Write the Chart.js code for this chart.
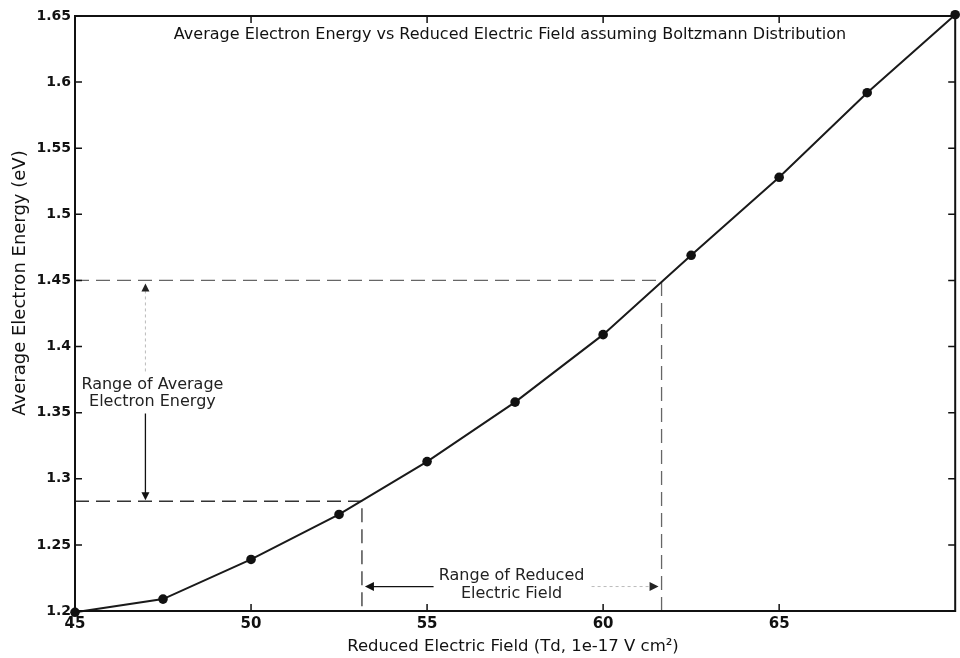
<!DOCTYPE html>
<html>
<head>
<meta charset="utf-8">
<script src="https://cdn.jsdelivr.net/npm/chart.js@4/dist/chart.umd.min.js"></script>
<style>
html,body{margin:0;padding:0;background:#fff;}
#wrap{width:960px;height:658px;}
</style>
</head>
<body>
<div id="wrap"><canvas id="c" width="960" height="658"></canvas></div>
<script>
// ---- data ----
const fieldValues = [45, 47.5, 50, 52.5, 55, 57.5, 60, 62.5, 65, 67.5, 70];
const energyValues = [1.199, 1.209, 1.239, 1.273, 1.313, 1.358, 1.409, 1.469, 1.528, 1.592, 1.651];
const xTicks = [45, 50, 55, 60, 65];
const yTicks = [1.2, 1.25, 1.3, 1.35, 1.4, 1.45, 1.5, 1.55, 1.6, 1.65];
const energyRange = [1.283, 1.45];      // dashed horizontal guides
const fieldRange = [53.15, 61.66];      // dashed vertical guides
const energyArrowX = 47.0;              // x position of vertical arrow
const fieldArrowY = 1.2185;             // y position of horizontal arrow
const titleText = 'Average Electron Energy vs Reduced Electric Field assuming Boltzmann Distribution';
const xTitle = 'Reduced Electric Field (Td, 1e-17 V cm\u00B2)';
const yTitle = 'Average Electron Energy (eV)';
const energyLabel = ['Range of Average', 'Electron Energy'];
const fieldLabel = ['Range of Reduced', 'Electric Field'];

const FONT = '"DejaVu Sans", Verdana, sans-serif';

function arrowHead(ctx, x, y, dir, size, color) {
  ctx.save();
  ctx.fillStyle = color;
  ctx.beginPath();
  const s = size, w = size * 0.5;
  if (dir === 'up') { ctx.moveTo(x, y); ctx.lineTo(x - w, y + s); ctx.lineTo(x + w, y + s); }
  if (dir === 'down') { ctx.moveTo(x, y); ctx.lineTo(x - w, y - s); ctx.lineTo(x + w, y - s); }
  if (dir === 'left') { ctx.moveTo(x, y); ctx.lineTo(x + s, y - w); ctx.lineTo(x + s, y + w); }
  if (dir === 'right') { ctx.moveTo(x, y); ctx.lineTo(x - s, y - w); ctx.lineTo(x - s, y + w); }
  ctx.closePath();
  ctx.fill();
  ctx.restore();
}

const guidesPlugin = {
  id: 'guides',
  beforeDatasetsDraw(chart) {
    const {ctx, scales: {x, y}} = chart;
    ctx.save();
    ctx.lineWidth = 1.3;
    ctx.setLineDash([14, 7]);
    // upper guide (1.45)
    ctx.strokeStyle = '#666';
    ctx.beginPath();
    ctx.moveTo(x.getPixelForValue(45), y.getPixelForValue(energyRange[1]));
    ctx.lineTo(x.getPixelForValue(fieldRange[1]), y.getPixelForValue(energyRange[1]));
    ctx.lineTo(x.getPixelForValue(fieldRange[1]), y.getPixelForValue(1.2));
    ctx.stroke();
    // lower guide
    ctx.strokeStyle = '#333';
    ctx.beginPath();
    ctx.moveTo(x.getPixelForValue(45), y.getPixelForValue(energyRange[0]));
    ctx.lineTo(x.getPixelForValue(fieldRange[0]), y.getPixelForValue(energyRange[0]));
    ctx.lineTo(x.getPixelForValue(fieldRange[0]), y.getPixelForValue(1.2));
    ctx.stroke();
    ctx.setLineDash([]);

    // vertical arrow (energy range)
    const ax = x.getPixelForValue(energyArrowX);
    const yTop = y.getPixelForValue(energyRange[1]);
    const yBot = y.getPixelForValue(energyRange[0]);
    const yLab = y.getPixelForValue(1.3645);
    ctx.strokeStyle = '#bbb';
    ctx.lineWidth = 1;
    ctx.setLineDash([3, 3]);
    ctx.beginPath(); ctx.moveTo(ax, yTop + 10); ctx.lineTo(ax, yLab - 21); ctx.stroke();
    ctx.setLineDash([]);
    ctx.strokeStyle = '#111';
    ctx.lineWidth = 1.3;
    ctx.beginPath(); ctx.moveTo(ax, yLab + 20); ctx.lineTo(ax, yBot - 6); ctx.stroke();
    arrowHead(ctx, ax, yTop + 3, 'up', 8, '#222');
    arrowHead(ctx, ax, yBot - 1, 'down', 8, '#111');
    ctx.fillStyle = '#222';
    ctx.font = '16px ' + FONT;
    ctx.textAlign = 'center';
    ctx.textBaseline = 'middle';
    ctx.fillText(energyLabel[0], ax + 7, yLab - 9);
    ctx.fillText(energyLabel[1], ax + 7, yLab + 8);

    // horizontal arrow (field range)
    const hy = y.getPixelForValue(fieldArrowY);
    const xL = x.getPixelForValue(fieldRange[0]);
    const xR = x.getPixelForValue(fieldRange[1]);
    const cx = x.getPixelForValue(57.4);
    ctx.strokeStyle = '#111';
    ctx.lineWidth = 1.3;
    ctx.beginPath(); ctx.moveTo(xL + 8, hy); ctx.lineTo(cx - 78, hy); ctx.stroke();
    arrowHead(ctx, xL + 3, hy, 'left', 9, '#111');
    ctx.strokeStyle = '#bbb';
    ctx.lineWidth = 1;
    ctx.setLineDash([3, 3]);
    ctx.beginPath(); ctx.moveTo(cx + 80, hy); ctx.lineTo(xR - 9, hy); ctx.stroke();
    ctx.setLineDash([]);
    arrowHead(ctx, xR - 3, hy, 'right', 9, '#222');
    ctx.fillStyle = '#222';
    ctx.fillText(fieldLabel[0], cx, hy - 11);
    ctx.fillText(fieldLabel[1], cx, hy + 7);
    ctx.restore();
  },
  afterDraw(chart) {
    const {ctx, chartArea: a, scales: {x, y}} = chart;
    ctx.save();
    // box
    ctx.strokeStyle = '#111';
    ctx.lineWidth = 2;
    ctx.strokeRect(a.left, a.top, a.right - a.left, a.bottom - a.top);
    // inward ticks
    ctx.lineWidth = 1.5;
    const tl = 7;
    xTicks.forEach(v => {
      const px = x.getPixelForValue(v);
      ctx.beginPath();
      ctx.moveTo(px, a.bottom); ctx.lineTo(px, a.bottom - tl);
      ctx.moveTo(px, a.top); ctx.lineTo(px, a.top + tl);
      ctx.stroke();
    });
    yTicks.forEach(v => {
      const py = y.getPixelForValue(v);
      ctx.beginPath();
      ctx.moveTo(a.left, py); ctx.lineTo(a.left + tl, py);
      ctx.moveTo(a.right, py); ctx.lineTo(a.right - tl, py);
      ctx.stroke();
    });
    // title inside the plot
    ctx.fillStyle = '#111';
    ctx.font = '16px ' + FONT;
    ctx.textAlign = 'center';
    ctx.textBaseline = 'middle';
    ctx.fillText(titleText, 510, 35);
    // axis titles
    ctx.font = '16.5px ' + FONT;
    ctx.fillText(xTitle, 513, 647);
    ctx.save();
    ctx.font = '18px ' + FONT;
    ctx.translate(20, 283);
    ctx.rotate(-Math.PI / 2);
    ctx.fillText(yTitle, 0, 0);
    ctx.restore();
    ctx.restore();
  }
};

new Chart(document.getElementById('c'), {
  type: 'line',
  data: {
    datasets: [{
      data: fieldValues.map((v, i) => ({x: v, y: energyValues[i]})),
      borderColor: '#1a1a1a',
      backgroundColor: '#111',
      borderWidth: 2,
      pointRadius: 4.8,
      pointBackgroundColor: '#111',
      pointBorderColor: '#111',
      pointBorderWidth: 0,
      tension: 0,
      clip: false
    }]
  },
  options: {
    responsive: false,
    animation: false,
    devicePixelRatio: 1,
    layout: {padding: {left: 0, top: 16, right: 3, bottom: 0}},
    plugins: {legend: {display: false}, tooltip: {enabled: false}, title: {display: false}},
    scales: {
      x: {
        type: 'linear', min: 45, max: 70,
        grid: {display: false, drawTicks: false},
        border: {display: false},
        afterBuildTicks: s => { s.ticks = xTicks.map(v => ({value: v})); },
        afterFit: s => { s.height = 47; },
        ticks: {
          padding: 4,
          color: '#111',
          font: {family: FONT, size: 15, weight: 'bold'},
          maxRotation: 0,
          callback: v => String(v)
        }
      },
      y: {
        type: 'linear', min: 1.2, max: 1.65,
        grid: {display: false, drawTicks: false},
        border: {display: false},
        afterBuildTicks: s => { s.ticks = yTicks.map(v => ({value: v})); },
        afterFit: s => { s.width = 75; },
        ticks: {
          padding: 4,
          color: '#111',
          font: {family: FONT, size: 14, weight: 'bold'},
          callback: v => String(Number(v.toFixed(2)))
        }
      }
    }
  },
  plugins: [guidesPlugin]
});
</script>
</body>
</html>
